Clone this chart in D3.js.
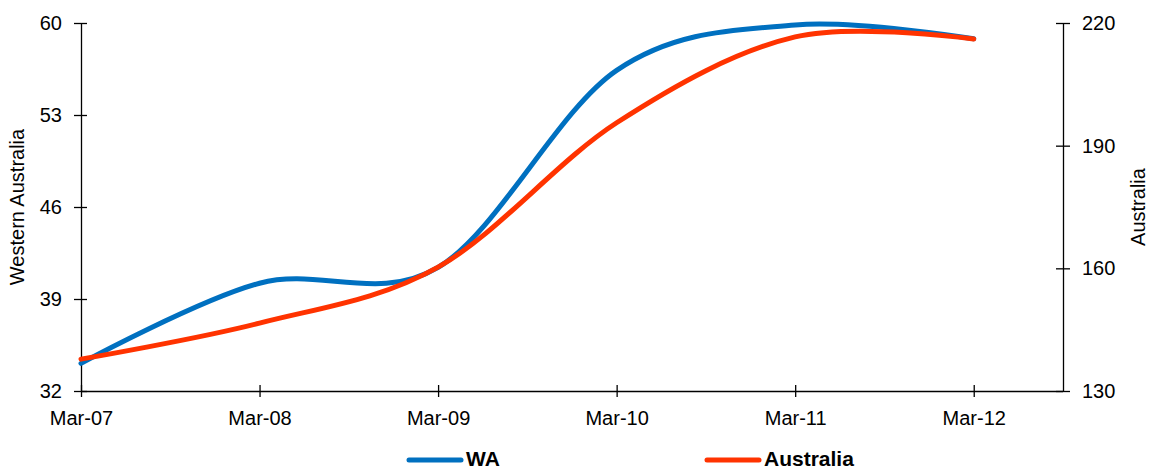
<!DOCTYPE html>
<html>
<head>
<meta charset="utf-8">
<script src="https://cdn.jsdelivr.net/npm/d3@7"></script>
<style>
  html, body { margin: 0; padding: 0; background: #fff; }
  svg { display: block; font-family: "Liberation Sans", Arial, sans-serif; }
</style>
</head>
<body>
<svg id="chart" width="1149" height="470"></svg>
<script>
const categories = ["Mar-07", "Mar-08", "Mar-09", "Mar-10", "Mar-11", "Mar-12"];
const waValues = [34.1, 40.2, 41.4, 56.4, 59.85, 58.8];
const ausValues = [137.8, 146.6, 160.3, 195.6, 216.6, 216.1];
const leftTicks = [32, 39, 46, 53, 60];
const rightTicks = [130, 160, 190, 220];
const seriesNames = ["WA", "Australia"];
const seriesColors = ["#0070C0", "#FF3300"];

(function () {
const svg = d3.select("#chart");
const pLeft = 81, pRight = 1063, pTop = 23, pBottom = 391;

const x = d3.scaleLinear().domain([0, categories.length - 0.5]).range([pLeft, pRight]);
const yL = d3.scaleLinear().domain([32, 60]).range([pBottom, pTop]);
const yR = d3.scaleLinear().domain([130, 220]).range([pBottom, pTop]);

const fontSize = 20;

// X axis
const xAxis = svg.append("g").attr("transform", `translate(0,${pBottom})`)
  .call(d3.axisBottom(x).tickValues(d3.range(categories.length))
    .tickFormat(i => categories[i]).tickSizeOuter(0).tickSizeInner(6).tickPadding(14));
xAxis.select(".domain").attr("d", `M${pLeft},0.5H${pRight}`);
xAxis.selectAll(".tick line").attr("y1", -6).attr("y2", 6);

// Left axis
const lAxis = svg.append("g").attr("transform", `translate(${pLeft},0)`)
  .call(d3.axisLeft(yL).tickValues(leftTicks).tickSizeOuter(0).tickSizeInner(7).tickPadding(12));
lAxis.selectAll(".tick line").attr("x1", -7).attr("x2", 6);

// Right axis
const rAxis = svg.append("g").attr("transform", `translate(${pRight},0)`)
  .call(d3.axisRight(yR).tickValues(rightTicks).tickSizeOuter(0).tickSizeInner(7).tickPadding(12));
rAxis.selectAll(".tick line").attr("x1", -7).attr("x2", 7);

svg.selectAll(".tick text").attr("font-size", fontSize).attr("fill", "#000")
  .attr("font-family", "Liberation Sans, Arial, sans-serif");
svg.selectAll(".domain, .tick line").attr("stroke", "#000").attr("stroke-width", 1.3);

// Axis titles
svg.append("text").attr("transform", `translate(24,${(pTop + pBottom) / 2}) rotate(-90)`)
  .attr("text-anchor", "middle").attr("font-size", fontSize).text("Western Australia");
svg.append("text").attr("transform", `translate(1145,${(pTop + pBottom) / 2}) rotate(-90)`)
  .attr("text-anchor", "middle").attr("font-size", fontSize).text("Australia");

// Lines
const curve = d3.curveCardinal.tension(0);
const lineL = d3.line().x((d, i) => x(i)).y(d => yL(d)).curve(curve);
const lineR = d3.line().x((d, i) => x(i)).y(d => yR(d)).curve(curve);

svg.append("path").datum(waValues).attr("d", lineL)
  .attr("fill", "none").attr("stroke", seriesColors[0]).attr("stroke-width", 5)
  .attr("stroke-linecap", "round").attr("stroke-linejoin", "round");
svg.append("path").datum(ausValues).attr("d", lineR)
  .attr("fill", "none").attr("stroke", seriesColors[1]).attr("stroke-width", 5)
  .attr("stroke-linecap", "round").attr("stroke-linejoin", "round");

// Legend
const legendX = [407, 705];
seriesNames.forEach((name, i) => {
  const g = svg.append("g").attr("transform", `translate(${legendX[i]},460)`);
  g.append("line").attr("x1", 2).attr("x2", 54).attr("y1", 0).attr("y2", 0)
    .attr("stroke", seriesColors[i]).attr("stroke-width", 5).attr("stroke-linecap", "round");
  g.append("text").attr("x", 59).attr("y", 6).attr("font-size", 21)
    .attr("font-weight", "bold").text(name);
});
})();
</script>
</body>
</html>
